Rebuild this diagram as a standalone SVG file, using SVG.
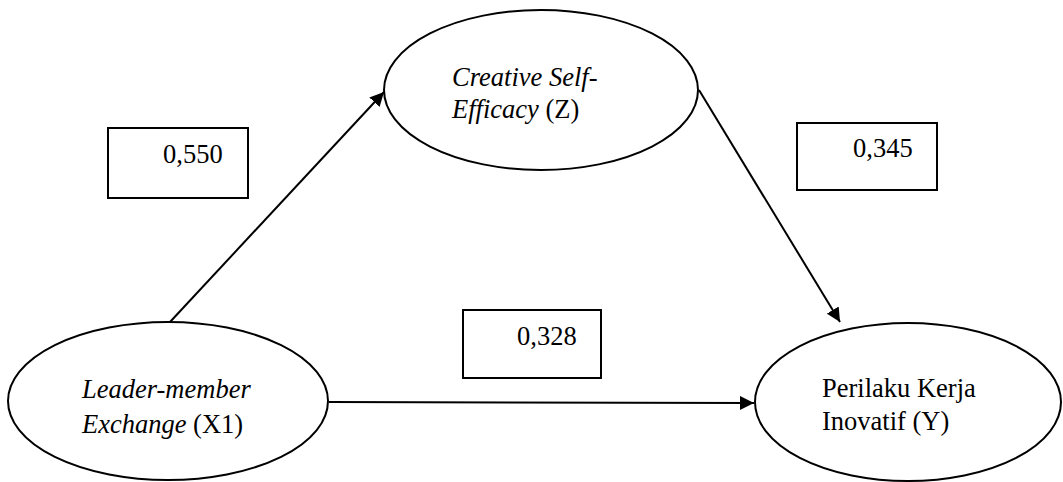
<svg xmlns="http://www.w3.org/2000/svg" width="1063" height="482" viewBox="0 0 1063 482">
  <style>
    .shape { fill: #ffffff; stroke: #000000; stroke-width: 2; }
    .link { fill: none; stroke: #000000; stroke-width: 2; }
    .label { font-size: 26.5px; fill: #000000; }
    .it { font-style: italic; }
  </style>
  <defs>
    <marker id="arrow" viewBox="0 0 14 14" refX="14" refY="7" markerWidth="14" markerHeight="14" markerUnits="userSpaceOnUse" orient="auto">
      <path d="M0,0 L14,7 L0,14 Z" fill="#000000"/>
    </marker>
  </defs>
  <rect width="1063" height="482" fill="#ffffff"/>

  <!-- connectors -->
  <g id="connectors">
    <line class="link" x1="170" y1="322" x2="384" y2="92" marker-end="url(#arrow)"/>
    <line class="link" x1="699" y1="90" x2="840" y2="322" marker-end="url(#arrow)"/>
    <line class="link" x1="329" y1="402" x2="754" y2="403" marker-end="url(#arrow)"/>
  </g>

  <g font-family="Liberation Serif, Times New Roman, DejaVu Serif, serif">
    <!-- path coefficients -->
    <g id="coef-x1-z">
      <rect class="shape" x="108" y="128" width="140" height="70"/>
      <text class="label" x="163" y="163">0,550</text>
    </g>
    <g id="coef-z-y">
      <rect class="shape" x="797" y="123" width="140" height="67"/>
      <text class="label" x="853" y="157">0,345</text>
    </g>
    <g id="coef-x1-y">
      <rect class="shape" x="463" y="310" width="138" height="68"/>
      <text class="label" x="517" y="345">0,328</text>
    </g>

    <!-- latent variables -->
    <g id="node-z">
      <ellipse class="shape" cx="541" cy="90" rx="157" ry="80"/>
      <text class="label" x="452" y="86"><tspan class="it">Creative Self-</tspan></text>
      <text class="label" x="452" y="118"><tspan class="it">Efficacy</tspan> (Z)</text>
    </g>
    <g id="node-x1">
      <ellipse class="shape" cx="168" cy="401" rx="160" ry="79"/>
      <text class="label" x="82" y="398"><tspan class="it">Leader-member</tspan></text>
      <text class="label" x="82" y="433"><tspan class="it">Exchange</tspan> (X1)</text>
    </g>
    <g id="node-y">
      <ellipse class="shape" cx="908" cy="402" rx="153" ry="79"/>
      <text class="label" x="822" y="397">Perilaku Kerja</text>
      <text class="label" x="822" y="430">Inovatif (Y)</text>
    </g>
  </g>
</svg>
